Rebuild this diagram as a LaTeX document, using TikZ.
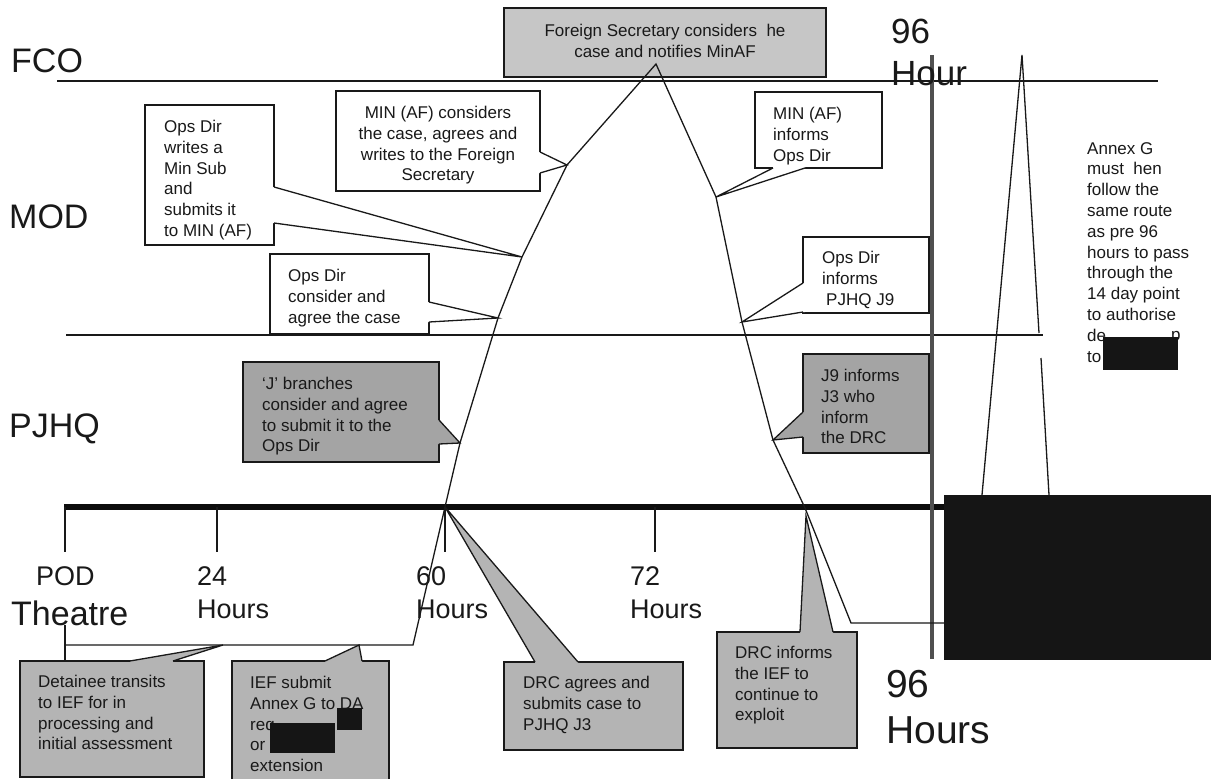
\documentclass[tikz,border=0pt]{standalone}
\usepackage{fontspec}
\setmainfont{Liberation Sans}
\usetikzlibrary{calc}
\definecolor{fcogray}{HTML}{C6C6C6}
\definecolor{dgray}{HTML}{A4A4A4}
\definecolor{mgray}{HTML}{B4B4B4}
\definecolor{redact}{HTML}{151515}
\definecolor{vline}{HTML}{505050}
\newcommand\ptr[5]{%
  \fill[#1] ($#2+#5$) -- #2 -- #3 -- #4 -- ($#4+#5$) -- cycle;
  \draw[ln] #2 -- #3 -- #4;}
\begin{document}
\begin{tikzpicture}[x=1pt,y=-1pt,
  ln/.style={draw=black!90, line width=1.3pt, line join=miter},
  tk/.style={draw=black!90, line width=1.4pt},
  boxw/.style={draw=black!90, line width=1.3pt, fill=white, anchor=north west, inner sep=0, outer sep=0},
  boxd/.style={boxw, fill=dgray},
  boxm/.style={boxw, fill=mgray},
  txt/.style={font=\fontsize{17}{20.8}\selectfont, align=left, anchor=north west, inner sep=0, text=black!90},
  big/.style={font=\fontsize{34}{40}\selectfont, anchor=base west, inner sep=0, text=black!90},
  ticklbl/.style={font=\fontsize{27}{33}\selectfont, anchor=base west, inner sep=0, text=black!90},
]
\useasboundingbox (0,0) rectangle (1211,779);
\fill[white] (0,0) rectangle (1211,779);

% swimlane lines
\coordinate (fcoL) at (57,81);
\coordinate (fcoR) at (1158,81);
\coordinate (modL) at (66,335);
\coordinate (modR) at (1043,335);
\draw[ln] (fcoL) -- (fcoR);
\draw[ln] (modL) -- (modR);

% timeline
\coordinate (tlL) at (64,507);
\coordinate (tlR) at (944,507);
\draw[black!95, line width=6pt] (tlL) -- (tlR);
\foreach \n/\x in {pod/65,h24/217,h60/445,h72/655}{
  \coordinate (\n a) at (\x,507);
  \coordinate (\n b) at (\x,552);
  \draw[tk] (\n a) -- (\n b);
}

% 96 hour vertical
\coordinate (v96a) at (932,55);
\coordinate (v96b) at (932,659);
\draw[vline, line width=4pt] (v96a) -- (v96b);

% second triangle
\coordinate (apex) at (1022,55);
\coordinate (triL) at (982,495);
\coordinate (triR1) at (1039,333);
\coordinate (triR2) at (1041,358);
\coordinate (triR) at (1049,495);
\draw[ln] (triL) -- (apex) -- (triR1);
\draw[ln] (triR2) -- (triR);

% FCO box
\node[boxw, fill=fcogray, minimum width=322pt, minimum height=69pt] (bF) at (504,8) {};

% main route
\coordinate (th) at (65,625);
\coordinate (thb) at (65,661);
\coordinate (b1) at (65,645);
\coordinate (b2) at (413,645);
\coordinate (t60) at (445,507);
\coordinate (pJ) at (460,443);
\coordinate (pC) at (498,318);
\coordinate (pA) at (522,257);
\coordinate (pB) at (567,165);
\coordinate (peak) at (656,64);
\coordinate (pM) at (716,197);
\coordinate (pO) at (742,322);
\coordinate (p9) at (773,440);
\coordinate (t90) at (805,508);
\coordinate (r1) at (851,623);
\coordinate (r2) at (944,623);
\coordinate (pD) at (223,645);
\coordinate (pI) at (359,645);
\coordinate (pR) at (806,516);
\draw[ln] (th) -- (thb);
\draw[ln] (b1) -- (b2) -- (t60) -- (pJ) -- (pC) -- (pA) -- (pB) -- (peak) -- (pM) -- (pO) -- (p9) -- (t90) -- (r1) -- (r2);

% callout boxes
\node[boxw, minimum width=129pt, minimum height=140pt] (bA) at (145,105) {};
\ptr{white}{(274,187)}{(pA)}{(274,223)}{(-2,0)}
\node[boxw, minimum width=204pt, minimum height=100pt] (bB) at (336,91) {};
\ptr{white}{(540,152)}{(pB)}{(540,173)}{(-2,0)}
\node[boxw, minimum width=159pt, minimum height=80pt] (bC) at (270,254) {};
\ptr{white}{(429,302)}{(pC)}{(429,322)}{(-2,0)}
\node[boxd, minimum width=196pt, minimum height=100pt] (bJ) at (243,362) {};
\ptr{dgray}{(439,420)}{(pJ)}{(439,444)}{(-2,0)}
\node[boxw, minimum width=127pt, minimum height=76pt] (bM) at (755,92) {};
\ptr{white}{(773,168)}{(pM)}{(805,168)}{(0,-2)}
\node[boxw, minimum width=126pt, minimum height=76pt] (bO) at (803,237) {};
\ptr{white}{(803,283)}{(pO)}{(803,312)}{(2,0)}
\node[boxd, minimum width=126pt, minimum height=99pt] (b9) at (803,354) {};
\ptr{dgray}{(803,412)}{(p9)}{(803,437)}{(2,0)}
\node[boxm, minimum width=184pt, minimum height=116pt] (bD) at (20,661) {};
\ptr{mgray}{(130,661)}{(pD)}{(173,661)}{(0,2)}
\node[boxm, minimum width=157pt, minimum height=124pt] (bI) at (232,661) {};
\ptr{mgray}{(325,661)}{(pI)}{(362,661)}{(0,2)}
\node[boxm, minimum width=179pt, minimum height=88pt] (bRa) at (504,662) {};
\ptr{mgray}{(535,662)}{(t60)}{(578,662)}{(0,2)}
\node[boxm, minimum width=140pt, minimum height=116pt] (bRi) at (717,632) {};
\ptr{mgray}{(800,632)}{(pR)}{(833,632)}{(0,2)}

% box texts
\node[txt, align=center, anchor=north] (tF) at (665,24) {Foreign Secretary considers~ he\\case and notifies MinAF};
\node[txt] (tA) at (164,120) {Ops Dir\\writes a\\Min Sub\\and\\submits it\\to MIN (AF)};
\node[txt, align=center, anchor=north] (tB) at (438,106) {MIN (AF) considers\\the case, agrees and\\writes to the Foreign\\Secretary};
\node[txt] (tC) at (288,269) {Ops Dir\\consider and\\agree the case};
\node[txt] (tJ) at (262,377) {`J' branches\\consider and agree\\to submit it to the\\Ops Dir};
\node[txt] (tM) at (773,107) {MIN (AF)\\informs\\Ops Dir};
\node[txt] (tO) at (822,251) {Ops Dir\\informs\\\hspace{4pt}PJHQ J9};
\node[txt] (t9) at (821,369) {J9 informs\\J3 who\\inform\\the DRC};
\node[txt] (tD) at (38,675) {Detainee transits\\to IEF for in\\processing and\\initial assessment};
\node[txt] (tI) at (250,676) {IEF submit\\Annex G to DA\\req\\or\\extension};
\node[txt] (tRa) at (523,676) {DRC agrees and\\submits case to\\PJHQ J3};
\node[txt] (tRi) at (735,646) {DRC informs\\the IEF to\\continue to\\exploit};
\node[txt] (tG) at (1087,142) {Annex G\\must~ hen\\follow the\\same route\\as pre 96\\hours to pass\\through the\\14 day point\\to authorise\\de\\to};
\node[txt, anchor=base west] (tGp) at (1171,340) {p};

% lane and time labels
\node[big] (lFCO) at (11,72) {FCO};
\node[big] (lMOD) at (9,228) {MOD};
\node[big] (lPJHQ) at (9,437) {PJHQ};
\node[big] (lTh) at (11,625) {Theatre};
\node[ticklbl] (lPOD) at (36,585) {POD};
\node[ticklbl] (l24a) at (197,585) {24};
\node[ticklbl] (l24b) at (197,618) {Hours};
\node[ticklbl] (l60a) at (416,585) {60};
\node[ticklbl] (l60b) at (416,618) {Hours};
\node[ticklbl] (l72a) at (630,585) {72};
\node[ticklbl] (l72b) at (630,618) {Hours};
\node[ticklbl, font=\fontsize{35}{40}\selectfont] (l96ta) at (891,43) {96};
\node[ticklbl, font=\fontsize{35}{40}\selectfont] (l96tb) at (891,85) {Hour};
\node[ticklbl, font=\fontsize{39}{46}\selectfont] (l96a) at (886,697) {96};
\node[ticklbl, font=\fontsize{39}{46}\selectfont] (l96b) at (886,743) {Hours};

% redactions
\fill[redact] (944,495) rectangle (1211,660);
\fill[redact] (337,708) rectangle (362,730);
\fill[redact] (270,723) rectangle (335,753);
\fill[redact] (1103,337) rectangle (1178,370);
\end{tikzpicture}
\end{document}
